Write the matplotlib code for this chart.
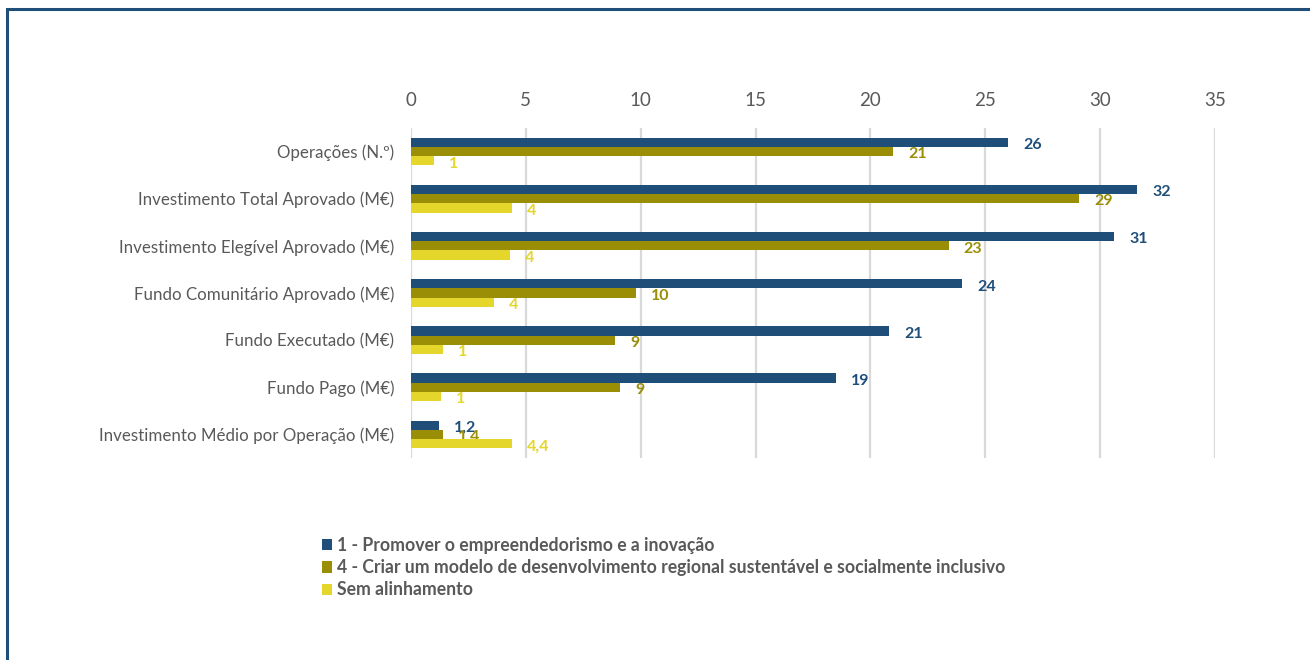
import numpy as np
import matplotlib.pyplot as plt
from matplotlib.patches import Rectangle, Patch

# ---------------------------------------------------------
# Indicadores por objetivo estratégico (barras horizontais)
# ---------------------------------------------------------

categories = [
    "Operações (N.º)",
    "Investimento Total Aprovado (M€)",
    "Investimento Elegível Aprovado (M€)",
    "Fundo Comunitário Aprovado (M€)",
    "Fundo Executado (M€)",
    "Fundo Pago (M€)",
    "Investimento Médio por Operação (M€)",
]

series_names = [
    "1 - Promover o empreendedorismo e a inovação",
    "4 - Criar um modelo de desenvolvimento regional sustentável e socialmente inclusivo",
    "Sem alinhamento",
]

obj1 = [26.0, 31.6, 30.6, 24.0, 20.8, 18.5, 1.2]
obj4 = [21.0, 29.1, 23.4, 9.8, 8.9, 9.1, 1.4]
sem = [1.0, 4.4, 4.3, 3.6, 1.4, 1.3, 4.4]

obj1_labels = ["26", "32", "31", "24", "21", "19", "1,2"]
obj4_labels = ["21", "29", "23", "10", "9", "9", "1,4"]
sem_labels = ["1", "4", "4", "4", "1", "1", "4,4"]

x_ticks = [0, 5, 10, 15, 20, 25, 30, 35]

colors = ["#1F4E79", "#998E06", "#E5D62B"]
text_grey = "#595959"

plt.rcParams['font.family'] = ['Lato', 'DejaVu Sans']

fig = plt.figure(figsize=(13.1, 6.6), dpi=100)
ax = fig.add_axes([411 / 1310, 1 - 458 / 660, (1215 - 411) / 1310, (458 - 128) / 660])

y = np.arange(len(categories))
h = 0.195
offsets = [-h, 0.0, h]
all_vals = [obj1, obj4, sem]
all_labels = [obj1_labels, obj4_labels, sem_labels]

for vals, labs, off, col in zip(all_vals, all_labels, offsets, colors):
    ax.barh(y + off, vals, height=h, color=col, zorder=3)
    for yi, v, lab in zip(y, vals, labs):
        ax.annotate(lab, (v, yi + off), xytext=(11, -2), textcoords="offset points",
                    ha="left", va="center", fontsize=11.5, fontweight="bold", color=col)

ax.set_xlim(0, 35)
ax.set_ylim(len(categories) - 0.5, -0.5)
ax.set_xticks(x_ticks)
ax.set_yticks(y)
ax.set_yticklabels(categories, fontsize=12.2, color=text_grey)
ax.xaxis.tick_top()
ax.tick_params(axis="x", length=0, pad=14, labelsize=13.5, labelcolor=text_grey)
ax.tick_params(axis="y", length=0, pad=12)
ax.grid(axis="x", color="#D9D9D9", linewidth=1.6, zorder=0)
for s in ax.spines.values():
    s.set_visible(False)

handles = [Patch(facecolor=c, edgecolor="none") for c in colors]
leg = fig.legend(handles, series_names, loc="upper left",
                 bbox_to_anchor=(306 / 1310, 1 - 521 / 660), frameon=False,
                 handlelength=0.6, handleheight=0.6, handletextpad=0.25,
                 labelspacing=0.3, prop={"size": 12.7, "weight": "bold"})
for t in leg.get_texts():
    t.set_color(text_grey)

# moldura azul (só visíveis os lados esquerdo e superior)
fig.patches.append(Rectangle((7 / 1310, -0.05), 1.1, 1 - 9 / 660 + 0.05,
                             transform=fig.transFigure, fill=False,
                             edgecolor="#1F4E79", linewidth=2.2))

plt.savefig("out.png", dpi=100)
